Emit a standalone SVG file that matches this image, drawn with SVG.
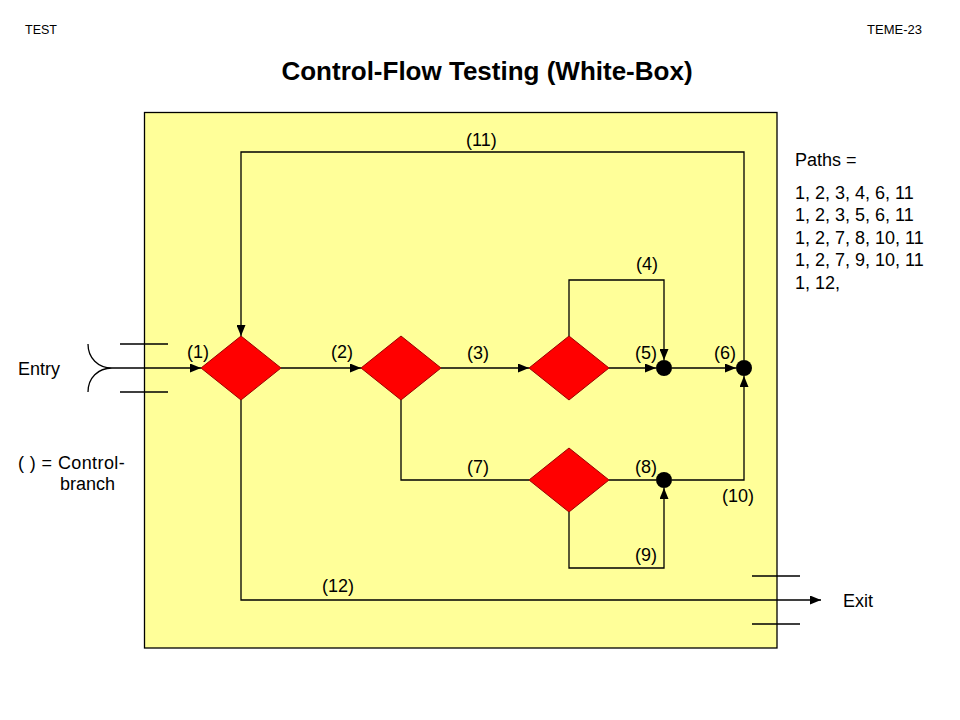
<svg xmlns="http://www.w3.org/2000/svg" width="960" height="720" viewBox="0 0 960 720">
<defs>
<style>
text{font-family:"Liberation Sans",Arial,sans-serif;fill:#000}
.lbl{font-size:18px}
.ln{fill:none;stroke:#000;stroke-width:1.3}
.dia{fill:#ff0000;stroke:#990000;stroke-width:1}
.dot{fill:#000}
</style>
<marker id="ah" markerWidth="11" markerHeight="9" refX="11" refY="4.5" orient="auto" markerUnits="userSpaceOnUse">
<path d="M0,0 L11,4.5 L0,9 Z" fill="#000"/>
</marker>
</defs>
<rect width="960" height="720" fill="#fff"/>
<text x="25" y="34" style="font-size:12.5px">TEST</text>
<text x="922" y="34" style="font-size:13px" text-anchor="end">TEME-23</text>
<text x="487" y="80" style="font-size:26px;font-weight:bold" text-anchor="middle">Control-Flow Testing (White-Box)</text>
<rect id="box" x="144.5" y="112.5" width="632.5" height="535.5" fill="#ffff99" stroke="#000" stroke-width="1.3"/>
<g id="entry">
<path class="ln" d="M120,344 H168 M120,392 H168"/>
<path class="ln" d="M88,344 C88,358 98,368 112,368 C98,368 88,378 88,392"/>
<text class="lbl" x="18" y="375">Entry</text>
</g>
<g id="exit">
<path class="ln" d="M752,576 H800 M752,624 H800"/>
<text class="lbl" x="843" y="607">Exit</text>
</g>
<g id="legend">
<text class="lbl" x="18" y="469" style="letter-spacing:0.4px">( ) = Control-</text>
<text class="lbl" x="60" y="490">branch</text>
</g>
<g id="paths">
<text class="lbl" x="795" y="166">Paths =</text>
<text class="lbl" x="795" y="199">1, 2, 3, 4, 6, 11</text>
<text class="lbl" x="795" y="221">1, 2, 3, 5, 6, 11</text>
<text class="lbl" x="795" y="244">1, 2, 7, 8, 10, 11</text>
<text class="lbl" x="795" y="266">1, 2, 7, 9, 10, 11</text>
<text class="lbl" x="795" y="289">1, 12,</text>
</g>
<g id="connectors">
<path class="ln" d="M112,368 H201" marker-end="url(#ah)"/>
<path class="ln" d="M281,368 H361" marker-end="url(#ah)"/>
<path class="ln" d="M441,368 H529" marker-end="url(#ah)"/>
<path class="ln" d="M609,368 H656" marker-end="url(#ah)"/>
<path class="ln" d="M672,368 H736" marker-end="url(#ah)"/>
<path class="ln" d="M569,336 V280 H664 V360" marker-end="url(#ah)"/>
<path class="ln" d="M744,360 V152 H241 V336" marker-end="url(#ah)"/>
<path class="ln" d="M401,400 V480 H529"/>
<path class="ln" d="M609,480 H656"/>
<path class="ln" d="M569,512 V568 H664 V488" marker-end="url(#ah)"/>
<path class="ln" d="M672,480 H744 V376" marker-end="url(#ah)"/>
<path class="ln" d="M241,400 V600 H821" marker-end="url(#ah)"/>
</g>
<g id="d1"><polygon class="dia" points="241,336 281,368 241,400 201,368"/></g>
<g id="d2"><polygon class="dia" points="401,336 441,368 401,400 361,368"/></g>
<g id="d3"><polygon class="dia" points="569,336 609,368 569,400 529,368"/></g>
<g id="d4"><polygon class="dia" points="569,448 609,480 569,512 529,480"/></g>
<g id="j5"><circle class="dot" cx="664" cy="368" r="8"/></g>
<g id="j6"><circle class="dot" cx="744" cy="368" r="8"/></g>
<g id="j8"><circle class="dot" cx="664" cy="480" r="8"/></g>
<g id="labels">
<text class="lbl" x="187" y="358">(1)</text>
<text class="lbl" x="331" y="358">(2)</text>
<text class="lbl" x="467" y="359">(3)</text>
<text class="lbl" x="636" y="270">(4)</text>
<text class="lbl" x="635" y="359">(5)</text>
<text class="lbl" x="714" y="359">(6)</text>
<text class="lbl" x="467" y="473">(7)</text>
<text class="lbl" x="635" y="473">(8)</text>
<text class="lbl" x="635" y="561">(9)</text>
<text class="lbl" x="722" y="502">(10)</text>
<text class="lbl" x="466" y="146">(11)</text>
<text class="lbl" x="322" y="592">(12)</text>
</g>
</svg>
